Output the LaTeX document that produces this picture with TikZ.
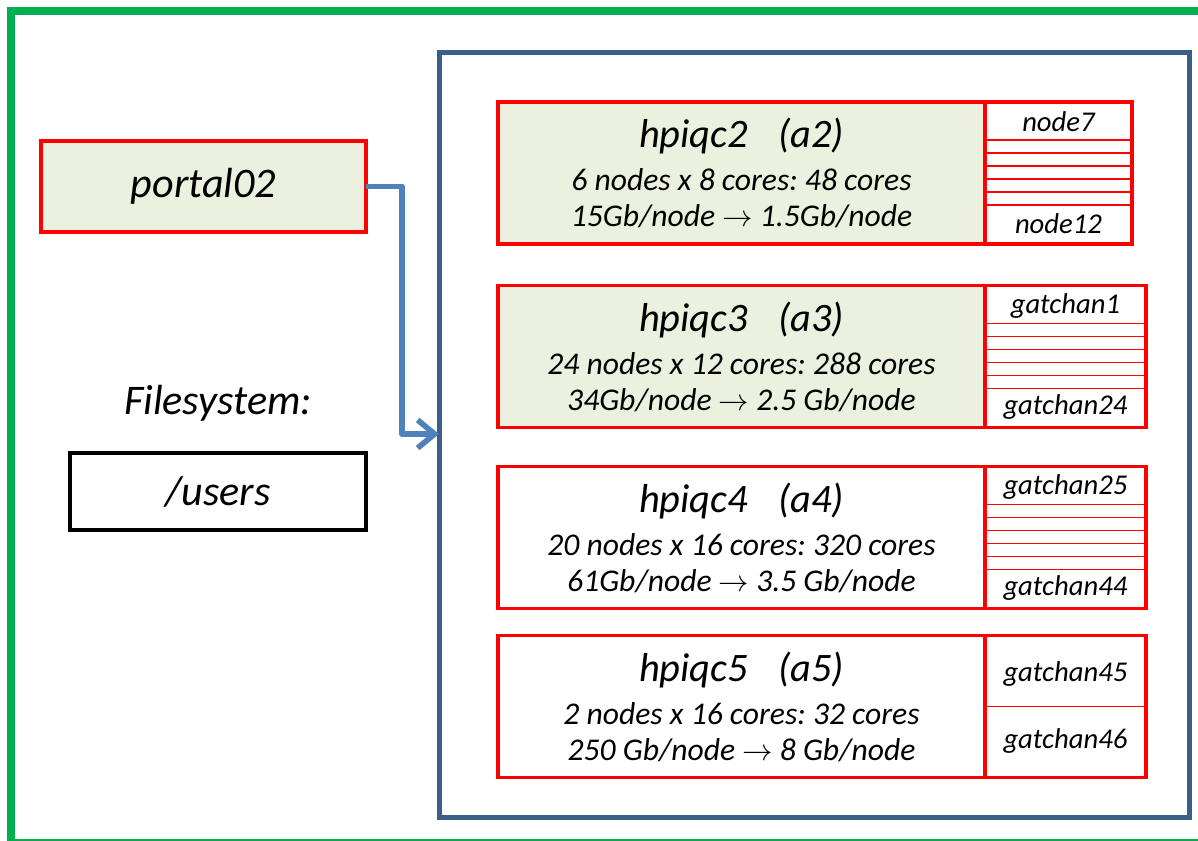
\documentclass[tikz,border=0pt]{standalone}
\usepackage{fontspec}
\setmainfont{Carlito}
\usetikzlibrary{arrows.meta}
\definecolor{hostfill}{HTML}{EBF1DE}
\definecolor{frameblue}{HTML}{3A5F8B}
\definecolor{feedblue}{HTML}{4F81BD}
\definecolor{outergreen}{HTML}{00B050}
\newcommand{\hostname}[1]{{\fontsize{23}{26}\selectfont #1}}
\frenchspacing
\begin{document}
\begin{tikzpicture}[x=0.02cm, y=-0.02cm, every node/.style={font=\itshape, outer sep=0pt},
  host/.style={draw=red,line width=2pt,minimum width=9.74cm,minimum height=2.84cm,align=center,
    font=\itshape\fontsize{18}{20.4}\selectfont},
  rack/.style={draw=red,line width=2pt,minimum height=2.84cm,anchor=west},
  slot/.style={draw=red,line width=1pt},
  slotlabel/.style={font=\itshape\fontsize{16.3}{19}\selectfont},
  bigtext/.style={font=\itshape\fontsize{24}{28}\selectfont},
  feed/.style={draw=feedblue,line width=3.2pt,line join=round,-{Straight Barb[length=0.34cm,width=0.56cm]}}]
\clip (0,0) rectangle (1198,840);
\draw[outergreen,line width=4pt] (11,11) rectangle (1215,842);
\node[draw=frameblue,line width=2.8pt,minimum width=15.02cm,minimum height=15.32cm] (frame) at (814.5,435) {};
\node[draw=red,line width=2pt,fill=hostfill,minimum width=6.5cm,minimum height=1.82cm,bigtext] (portal) at (203.5,186.5) {portal02};
\node[bigtext] (fs) at (218,403) {Filesystem:};
\node[draw=black,line width=2pt,minimum width=5.92cm,minimum height=1.54cm,bigtext] (users) at (218,491.5) {/users};
\coordinate (bend) at (402,434);
\draw[feed] (portal.east) -| (bend) -- (bend -| frame.west);
\node[host,fill=hostfill] (h2) at (741.5,173) {\hostname{hpiqc2\hspace{0.75em}(a2)}\\[4.2pt] 6 nodes x 8 cores: 48 cores\\ 15Gb/node $\rightarrow$ 1.5Gb/node};
\node[rack,minimum width=2.94cm] (r2) at (h2.east) {};
\foreach \k in {0,...,5}
  \draw[slot] ([yshift=-0.76cm-0.26cm*\k]r2.north west) -- ([yshift=-0.76cm-0.26cm*\k]r2.north east);
\node[slotlabel] (n7) at ([yshift=-0.4cm]r2.north) {node7};
\node[slotlabel] (n12) at ([yshift=0.4cm]r2.south) {node12};
\node[host,fill=hostfill] (h3) at (741.5,356.5) {\hostname{hpiqc3\hspace{0.75em}(a3)}\\[4.2pt] 24 nodes x 12 cores: 288 cores\\ 34Gb/node $\rightarrow$ 2.5 Gb/node};
\node[rack,minimum width=3.22cm] (r3) at (h3.east) {};
\foreach \k in {0,...,5}
  \draw[slot] ([yshift=-0.76cm-0.26cm*\k]r3.north west) -- ([yshift=-0.76cm-0.26cm*\k]r3.north east);
\node[slotlabel] (g1) at ([yshift=-0.4cm]r3.north) {gatchan1};
\node[slotlabel] (g24) at ([yshift=0.4cm]r3.south) {gatchan24};
\node[host] (h4) at (741.5,537.5) {\hostname{hpiqc4\hspace{0.75em}(a4)}\\[4.2pt] 20 nodes x 16 cores: 320 cores\\ 61Gb/node $\rightarrow$ 3.5 Gb/node};
\node[rack,minimum width=3.22cm] (r4) at (h4.east) {};
\foreach \k in {0,...,5}
  \draw[slot] ([yshift=-0.76cm-0.26cm*\k]r4.north west) -- ([yshift=-0.76cm-0.26cm*\k]r4.north east);
\node[slotlabel] (g25) at ([yshift=-0.4cm]r4.north) {gatchan25};
\node[slotlabel] (g44) at ([yshift=0.4cm]r4.south) {gatchan44};
\node[host] (h5) at (741.5,706.5) {\hostname{hpiqc5\hspace{0.75em}(a5)}\\[4.2pt] 2 nodes x 16 cores: 32 cores\\ 250 Gb/node $\rightarrow$ 8 Gb/node};
\node[rack,minimum width=3.22cm] (r5) at (h5.east) {};
\draw[slot] (r5.west) -- (r5.east);
\node[slotlabel] (g45) at ([yshift=-0.76cm]r5.north) {gatchan45};
\node[slotlabel] (g46) at ([yshift=0.72cm]r5.south) {gatchan46};
\end{tikzpicture}
\end{document}
